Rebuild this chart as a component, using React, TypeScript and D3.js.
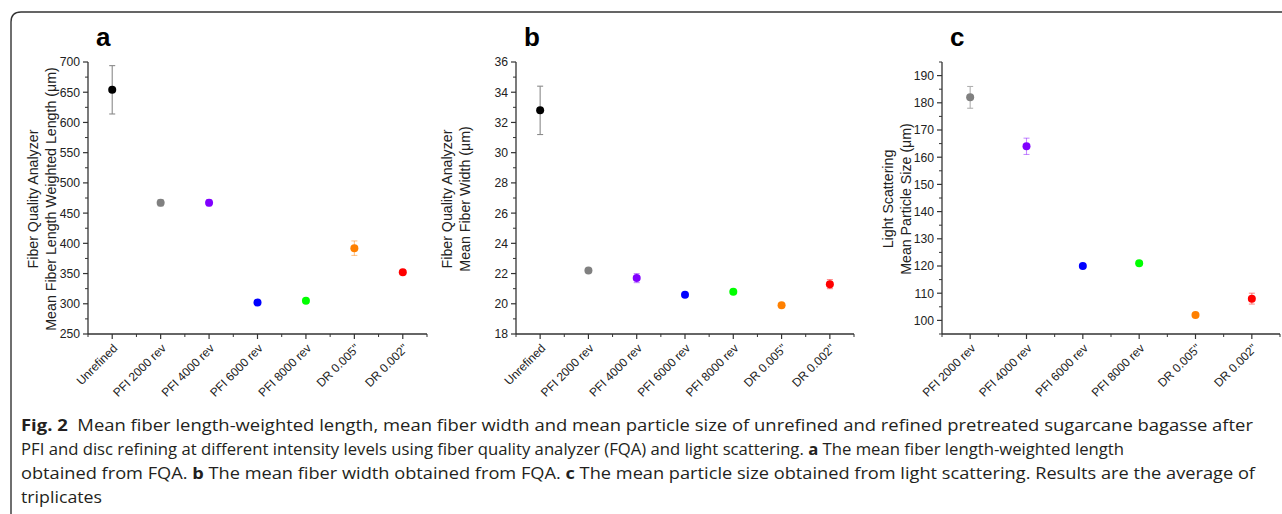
import React from "react";
import * as d3 from "d3";

const categoriesAB = [
  "Unrefined",
  "PFI 2000 rev",
  "PFI 4000 rev",
  "PFI 6000 rev",
  "PFI 8000 rev",
  'DR 0.005"',
  'DR 0.002"',
];
const categoriesC = [
  "PFI 2000 rev",
  "PFI 4000 rev",
  "PFI 6000 rev",
  "PFI 8000 rev",
  'DR 0.005"',
  'DR 0.002"',
];

const colorsAB = ["#000000", "#808080", "#8000ff", "#0000ff", "#00ff00", "#ff8000", "#ff0000"];
const colorsC = ["#808080", "#8000ff", "#0000ff", "#00ff00", "#ff8000", "#ff0000"];

// panel a: mean fiber length weighted length (um)
const lengthValues = [654, 467, 467, 302, 305, 392, 352];
const lengthErrors = [40, 5, 5, 3, 3, 12, 3];
const lengthTicks = [250, 300, 350, 400, 450, 500, 550, 600, 650, 700];

// panel b: mean fiber width (um)
const widthValues = [32.8, 22.2, 21.7, 20.6, 20.8, 19.9, 21.3];
const widthErrors = [1.6, 0.1, 0.3, 0.12, 0.1, 0.1, 0.3];
const widthTicks = [18, 20, 22, 24, 26, 28, 30, 32, 34, 36];

// panel c: mean particle size (um)
const sizeValues = [182, 164, 120, 121, 102, 108];
const sizeErrors = [4, 3, 0.6, 0.6, 0.6, 2];
const sizeTicks = [100, 110, 120, 130, 140, 150, 160, 170, 180, 190];

const captionLines = [
  [
    { t: "Fig. 2", b: true },
    { t: "\u00a0 Mean fiber length-weighted length, mean fiber width and mean particle size of unrefined and refined pretreated sugarcane bagasse after", b: false },
  ],
  [
    { t: "PFI and disc refining at different intensity levels using fiber quality analyzer (FQA) and light scattering. ", b: false },
    { t: "a", b: true },
    { t: " The mean fiber length-weighted length", b: false },
  ],
  [
    { t: "obtained from FQA. ", b: false },
    { t: "b", b: true },
    { t: " The mean fiber width obtained from FQA. ", b: false },
    { t: "c", b: true },
    { t: " The mean particle size obtained from light scattering. Results are the average of", b: false },
  ],
  [{ t: "triplicates", b: false }],
];
const captionWidths = [1232, 1103, 1234, 81];

const AXIS = "#333";
const TXT = "#222";
const SANS = "'Liberation Sans', Arial, sans-serif";

const errColor = (c) => (c === "#000000" ? "#8a8a8a" : c === "#808080" ? "#b0b0b0" : c);

const Panel = ({ letter, left, right, top, bottom, categories, values, errors, colors, domain, ticks, minorStep, titles, titleX }) => {
  const n = categories.length;
  const x = d3.scaleLinear().domain([0.5, n + 0.5]).range([left, right]);
  const y = d3.scaleLinear().domain(domain).range([bottom, top]);
  const minors = d3.range(domain[0], domain[1] + 1e-9, minorStep).filter((v) => !ticks.some((t) => Math.abs(t - v) < 1e-9));
  const xMinors = d3.range(0, n + 1).map((k) => k + 0.5);
  const midY = 199;

  return (
    <g>
      <text x={left + 8} y={46} fontFamily={SANS} fontWeight="bold" fontSize={26} fill="#000">
        {letter}
      </text>
      {titles.map((t, i) => (
        <text
          key={t}
          transform={`translate(${titleX[i]},${midY}) rotate(-90)`}
          textAnchor="middle"
          dy="0.36em"
          fontFamily={SANS}
          fontSize={14.2}
          fill={TXT}
        >
          {t}
        </text>
      ))}
      {/* y axis */}
      <line x1={left} x2={left} y1={y(domain[1])} y2={y(domain[0])} stroke={AXIS} strokeWidth={1.3} />
      {ticks.map((t) => (
        <g key={t}>
          <line x1={left - 5} x2={left} y1={y(t)} y2={y(t)} stroke={AXIS} strokeWidth={1.2} />
          <text x={left - 8} y={y(t)} dy="0.36em" textAnchor="end" fontFamily={SANS} fontSize={12.2} fill={TXT}>
            {t}
          </text>
        </g>
      ))}
      {minors.map((t) => (
        <line key={t} x1={left - 3} x2={left} y1={y(t)} y2={y(t)} stroke={AXIS} strokeWidth={1} />
      ))}
      {/* x axis */}
      <line x1={left} x2={right} y1={bottom} y2={bottom} stroke={AXIS} strokeWidth={1.3} />
      {categories.map((c, i) => (
        <g key={c}>
          <line x1={x(i + 1)} x2={x(i + 1)} y1={bottom} y2={bottom + 5} stroke={AXIS} strokeWidth={1.2} />
          <text
            transform={`translate(${x(i + 1) + 6},${bottom + 15}) rotate(-45)`}
            textAnchor="end"
            fontFamily={SANS}
            fontSize={12}
            fill={TXT}
          >
            {c}
          </text>
        </g>
      ))}
      {xMinors.map((k) => (
        <line key={k} x1={x(k)} x2={x(k)} y1={bottom} y2={bottom + 3} stroke={AXIS} strokeWidth={1} />
      ))}
      {/* error bars + points */}
      {values.map((v, i) => {
        const cx = x(i + 1);
        const ec = errColor(colors[i]);
        const op = colors[i] === "#000000" || colors[i] === "#808080" ? 1 : 0.45;
        const y0 = y(v - errors[i]);
        const y1 = y(v + errors[i]);
        return (
          <g key={i}>
            <g stroke={ec} strokeOpacity={op} strokeWidth={1.1}>
              <line x1={cx} x2={cx} y1={y0} y2={y1} />
              <line x1={cx - 3} x2={cx + 3} y1={y0} y2={y0} />
              <line x1={cx - 3} x2={cx + 3} y1={y1} y2={y1} />
            </g>
            <circle cx={cx} cy={y(v)} r={4} fill={colors[i]} />
          </g>
        );
      })}
    </g>
  );
};

export default function App() {
  return (
    <div style={{ position: "absolute", left: 0, top: 0 }}>
      <svg width={1282} height={514} style={{ display: "block", background: "#fff" }}>
        <path d="M11,514 L11,22 Q11,12 21,12 L1282,12" fill="none" stroke="#333" strokeWidth={1.4} />
        <Panel
          letter="a"
          left={88}
          right={427}
          top={62}
          bottom={334}
          categories={categoriesAB}
          values={lengthValues}
          errors={lengthErrors}
          colors={colorsAB}
          domain={[250, 700]}
          ticks={lengthTicks}
          minorStep={25}
          titles={["Fiber Quality Analyzer", "Mean Fiber Length Weighted Length (\u03bcm)"]}
          titleX={[33, 51]}
        />
        <Panel
          letter="b"
          left={516}
          right={854}
          top={62}
          bottom={334}
          categories={categoriesAB}
          values={widthValues}
          errors={widthErrors}
          colors={colorsAB}
          domain={[18, 36]}
          ticks={widthTicks}
          minorStep={1}
          titles={["Fiber Quality Analyzer", "Mean Fiber Width (\u03bcm)"]}
          titleX={[447, 465]}
        />
        <Panel
          letter="c"
          left={942}
          right={1280}
          top={62}
          bottom={334}
          categories={categoriesC}
          values={sizeValues}
          errors={sizeErrors}
          colors={colorsC}
          domain={[95, 195]}
          ticks={sizeTicks}
          minorStep={5}
          titles={["Light Scattering", "Mean Particle Size (\u03bcm)"]}
          titleX={[888, 906]}
        />
        {captionLines.map((line, i) => (
          <text
            key={i}
            x={21}
            y={431 + i * 24}
            fontFamily="'Open Sans', 'Noto Sans', sans-serif"
            fontSize={16.5}
            fill="#231f20"
            textLength={captionWidths[i]}
            lengthAdjust="spacingAndGlyphs"
          >
            {line.map((s, j) => (
              <tspan key={j} fontWeight={s.b ? "bold" : "normal"}>
                {s.t}
              </tspan>
            ))}
          </text>
        ))}
      </svg>
    </div>
  );
}
